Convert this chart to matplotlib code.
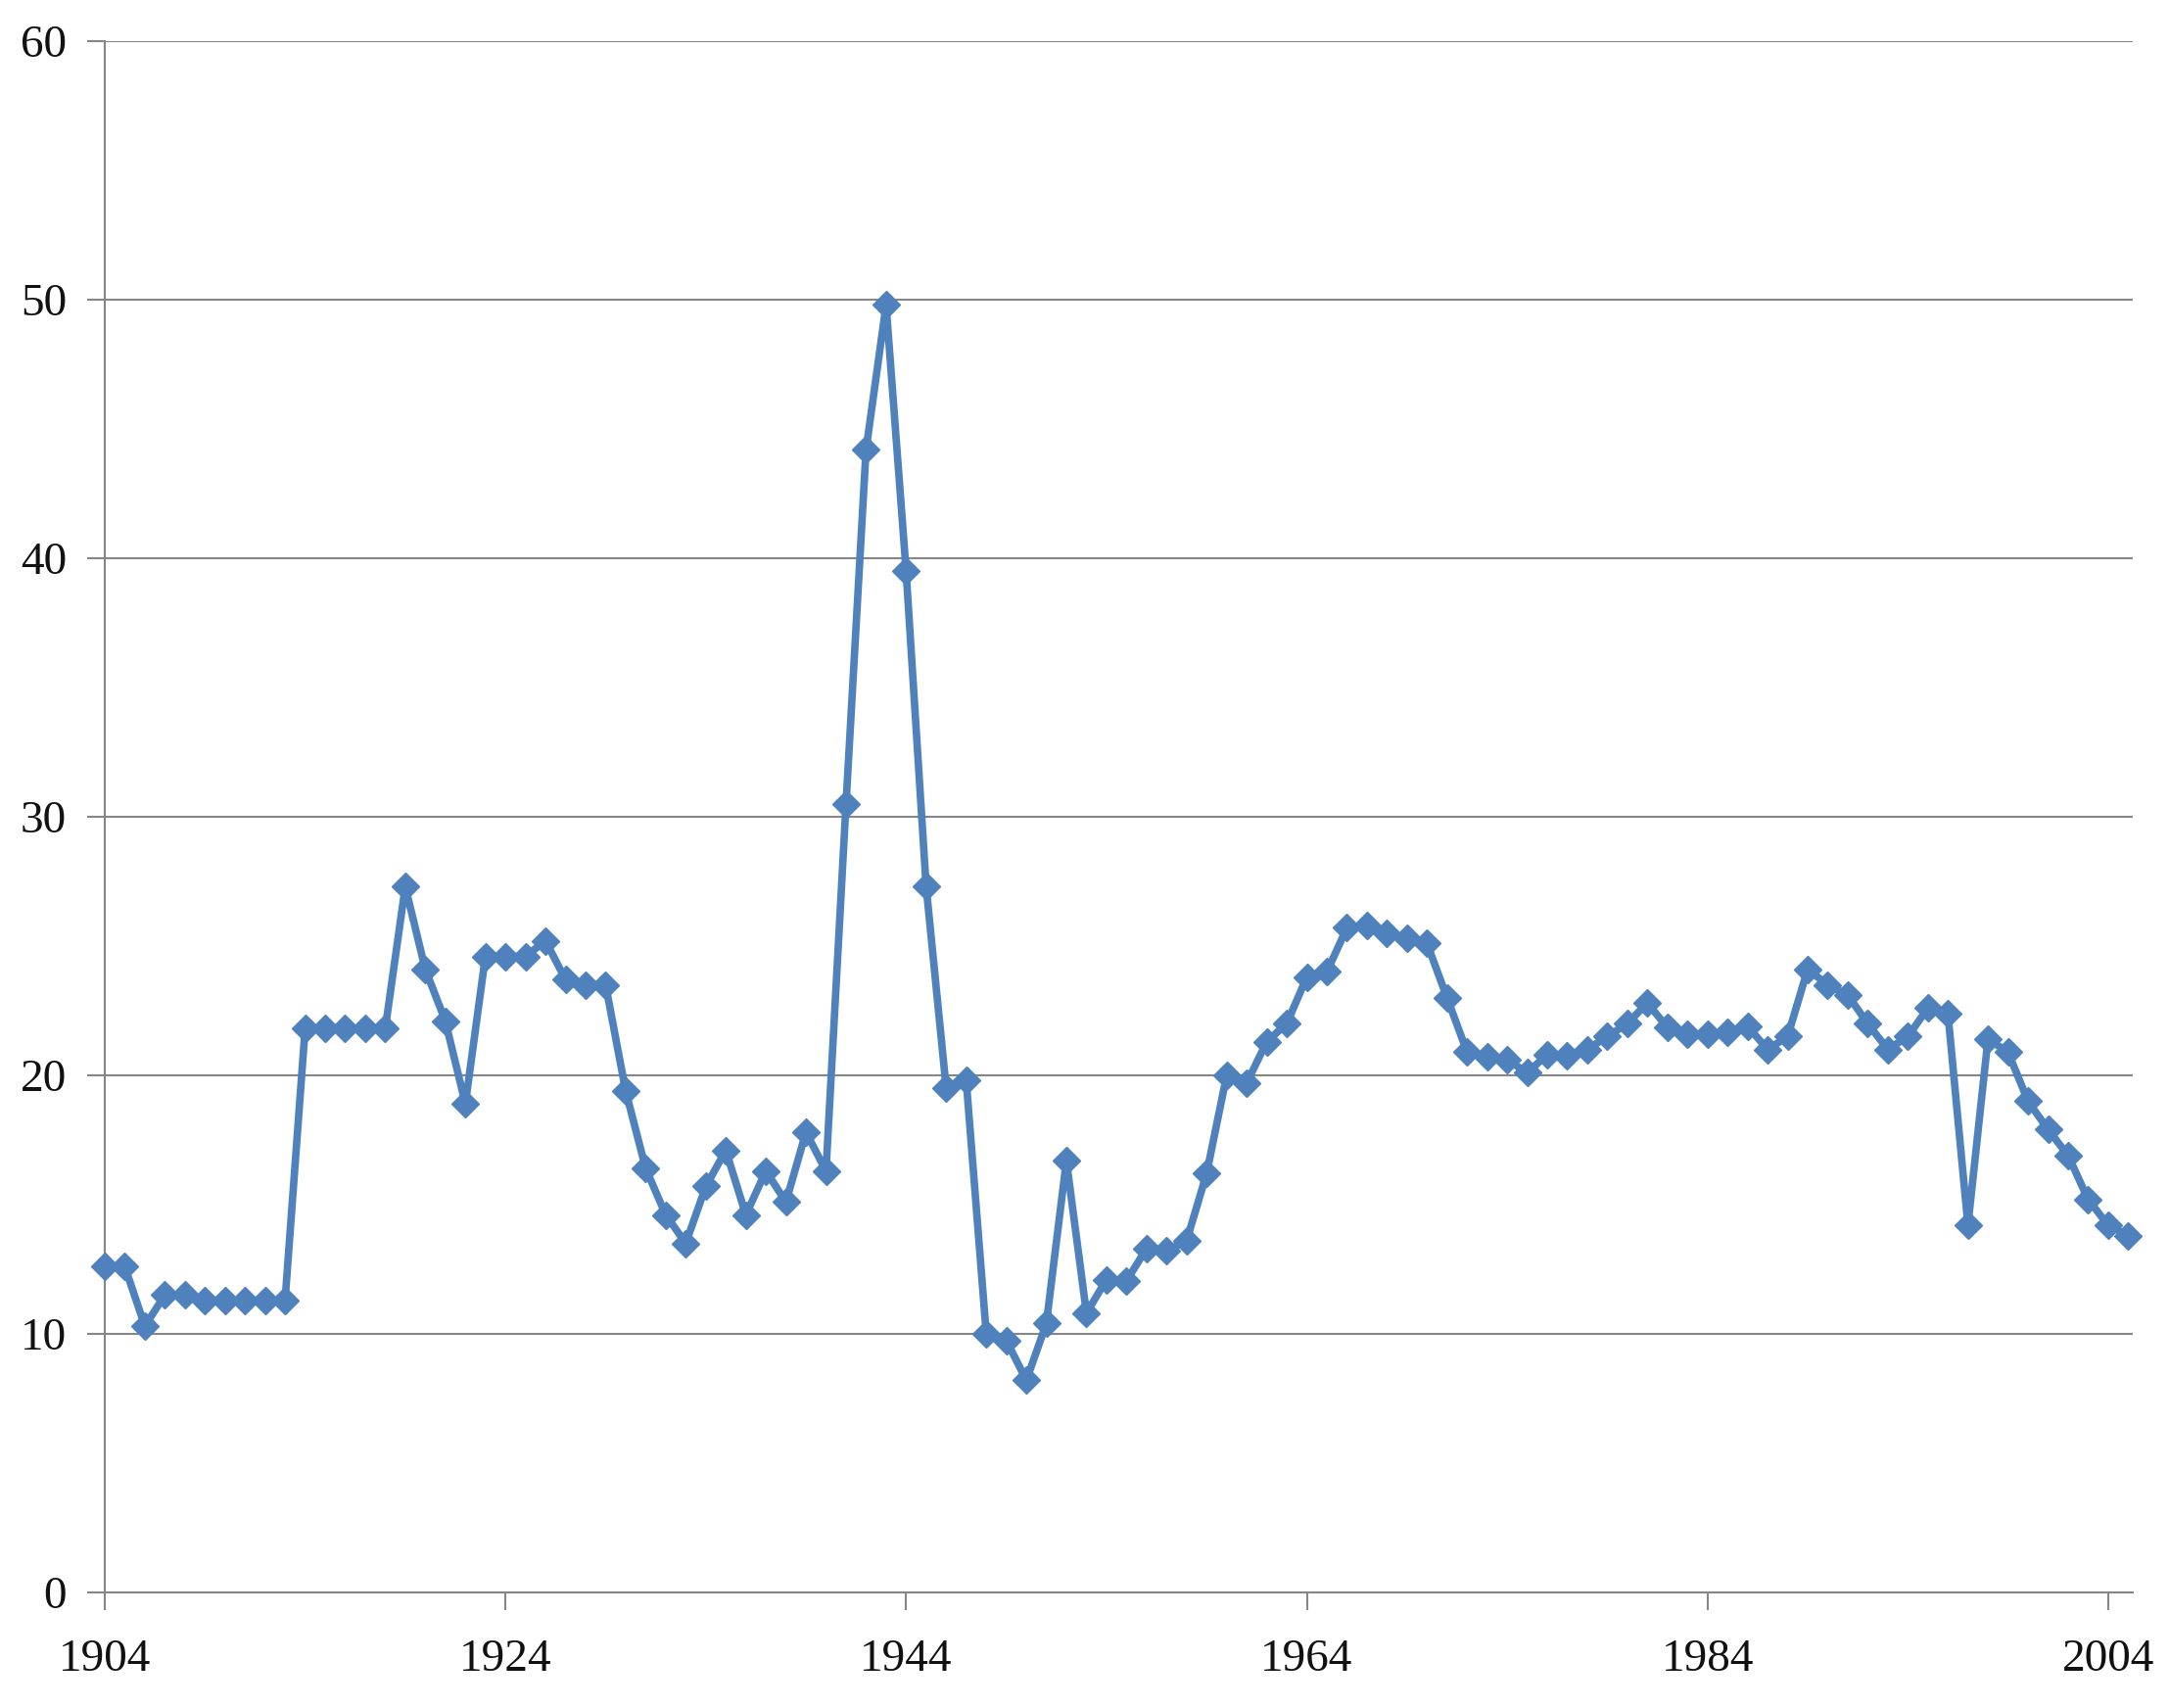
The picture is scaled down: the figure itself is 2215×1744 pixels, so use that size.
import matplotlib
matplotlib.use("Agg")
import matplotlib.pyplot as plt

# yearly values
years = list(range(1904, 2006))
values = [
    12.6, 12.6, 10.3, 11.5, 11.5, 11.3, 11.3, 11.3, 11.3, 11.3,   # 1904-1913
    21.8, 21.8, 21.8, 21.8, 21.8, 27.3, 24.1, 22.1, 18.9, 24.6,   # 1914-1923
    24.6, 24.6, 25.2, 23.7, 23.5, 23.5, 19.4, 16.4, 14.6, 13.5,   # 1924-1933
    15.7, 17.1, 14.6, 16.3, 15.1, 17.8, 16.3, 30.5, 44.2, 49.8,   # 1934-1943
    39.5, 27.3, 19.5, 19.8, 10.0, 9.75, 8.2, 10.4, 16.7, 10.8,    # 1944-1953
    12.1, 12.05, 13.3, 13.2, 13.6, 16.2, 20.0, 19.7, 21.3, 22.0,  # 1954-1963
    23.8, 24.0, 25.7, 25.8, 25.5, 25.3, 25.1, 23.0, 20.9, 20.7,   # 1964-1973
    20.6, 20.1, 20.8, 20.75, 21.0, 21.5, 22.0, 22.8, 21.85, 21.6,  # 1974-1983
    21.6, 21.65, 21.9, 21.0, 21.5, 24.1, 23.5, 23.1, 22.0, 21.0,  # 1984-1993
    21.5, 22.6, 22.4, 14.2, 21.4, 20.9, 19.0, 17.9, 16.9, 15.2,   # 1994-2003
    14.2, 13.8,                                                    # 2004-2005
]
x_ticks = [1904, 1924, 1944, 1964, 1984, 2004]
y_ticks = [0, 10, 20, 30, 40, 50, 60]

blue = "#4F81BD"
grey = "#868686"

fig = plt.figure(figsize=(22.15, 17.44), dpi=100)
ax = fig.add_axes([0.0483, 0.0677, 0.9352, 0.9082])

ax.plot(years, values, color=blue, linewidth=5.5, marker="D",
        markersize=14, markerfacecolor=blue, markeredgecolor=blue,
        zorder=3, clip_on=False)

ax.set_xlim(1904, 2005.25)
ax.set_ylim(0, 60)
ax.set_xticks(x_ticks)
ax.set_yticks(y_ticks)

ax.yaxis.grid(True, color=grey, linewidth=1.5)
ax.set_axisbelow(True)

for side in ["top", "right"]:
    ax.spines[side].set_visible(False)
for side in ["left", "bottom"]:
    ax.spines[side].set_color(grey)
    ax.spines[side].set_linewidth(1.5)

ax.tick_params(axis="both", direction="out", length=13, width=1.5,
               color=grey, labelsize=34, labelcolor="#111111")
ax.tick_params(axis="y", pad=15)
ax.tick_params(axis="x", pad=21)
for lab in ax.get_xticklabels() + ax.get_yticklabels():
    lab.set_fontfamily("Liberation Serif")

fig.savefig("out.png", dpi=100, facecolor="white")
